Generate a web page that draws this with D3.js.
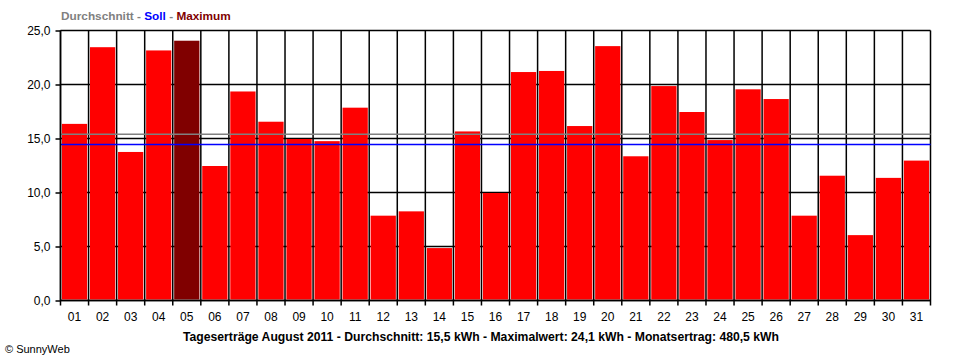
<!DOCTYPE html>
<html><head><meta charset="utf-8">
<script src="https://cdn.jsdelivr.net/npm/d3@7"></script>
<style>body{margin:0;background:#fff}svg{display:block}</style>
</head><body><svg id="c" width="960" height="360"></svg>
<script>
const days = ["01","02","03","04","05","06","07","08","09","10","11","12","13","14","15","16","17","18","19","20","21","22","23","24","25","26","27","28","29","30","31"];
const values = [16.4,23.5,13.8,23.2,24.1,12.5,19.4,16.6,15.0,14.8,17.9,7.9,8.3,4.9,15.7,10.0,21.2,21.3,16.2,23.6,13.4,19.9,17.5,14.9,19.6,18.7,7.9,11.6,6.1,11.4,13.0];
const yTicks = [0,5,10,15,20,25];
const yTickLabels = ["0,0","5,0","10,0","15,0","20,0","25,0"];
const averageLine = 15.4;
const targetLine = 14.45;
const legendParts = [{t:"Durchschnitt",c:"#808080"},{t:" - ",c:"#808080"},{t:"Soll",c:"#0000ff"},{t:" - ",c:"#808080"},{t:"Maximum",c:"#800000"}];
const footer = "Tageserträge August 2011 - Durchschnitt: 15,5 kWh - Maximalwert: 24,1 kWh - Monatsertrag: 480,5 kWh";
const credit = "© SunnyWeb";

const svg = d3.select("#c");
const L=60.5, R=930.5, T=30.5, B=300.5;
const font = "'Liberation Sans', Arial, sans-serif";
const x = d3.scaleBand().domain(days).range([L,R]).paddingInner(0.1).paddingOuter(0.05);
const y = d3.scaleLinear().domain([0,25]).range([B,T]);
const step = x.step(), gap = (step - x.bandwidth())/2;
const maxV = d3.max(values);

// horizontal grid
svg.append("g").selectAll("line").data(yTicks).join("line")
  .attr("x1",L).attr("x2",R).attr("y1",d=>y(d)).attr("y2",d=>y(d))
  .attr("stroke","#000").attr("stroke-width",1.5);
// vertical grid (column boundaries)
const bounds = days.map(d=>x(d)-gap).concat([R]);
svg.append("g").selectAll("line").data(bounds).join("line")
  .attr("x1",d=>d).attr("x2",d=>d).attr("y1",T).attr("y2",B+5)
  .attr("stroke","#000").attr("stroke-width",1.5);
// bars
svg.append("g").selectAll("rect").data(values).join("rect")
  .attr("x",(d,i)=>x(days[i])).attr("width",x.bandwidth())
  .attr("y",d=>y(d)+0.5).attr("height",d=>y(0)-y(d)-1.5)
  .attr("fill",d=>d===maxV?"#800000":"#ff0000");
// average / target lines
svg.append("line").attr("x1",L).attr("x2",R).attr("y1",y(averageLine)).attr("y2",y(averageLine))
  .attr("stroke","#808080").attr("stroke-width",1.5);
svg.append("line").attr("x1",L).attr("x2",R).attr("y1",y(targetLine)).attr("y2",y(targetLine))
  .attr("stroke","#0000ff").attr("stroke-width",1.5);
// axes
svg.append("line").attr("x1",L).attr("x2",R).attr("y1",B).attr("y2",B).attr("stroke","#000").attr("stroke-width",1.5);
svg.append("line").attr("x1",L).attr("x2",L).attr("y1",T).attr("y2",B).attr("stroke","#000").attr("stroke-width",1.5);
const yAxis = d3.axisLeft(y).tickValues(yTicks).tickSize(5).tickFormat((d,i)=>yTickLabels[i]);
const gy = svg.append("g").attr("transform",`translate(${L},0)`).call(yAxis);
gy.select(".domain").remove();
gy.selectAll("line").attr("stroke","#000").attr("stroke-width",1.5);
gy.selectAll("text").attr("font-family",font).attr("font-size",12).attr("fill","#000").attr("x",-10).attr("dy","0.35em");
const xAxis = d3.axisBottom(x).tickSize(0);
const gx = svg.append("g").attr("transform",`translate(0,${B})`).call(xAxis);
gx.select(".domain").remove();
gx.selectAll("text").attr("font-family",font).attr("font-size",12).attr("fill","#000").attr("y",12).attr("dy","0.71em");

// legend
const lg = svg.append("text").attr("x",61).attr("y",20).attr("font-family",font).attr("font-size",11.8).attr("font-weight","bold");
lg.selectAll("tspan").data(legendParts).join("tspan").attr("fill",d=>d.c).text(d=>d.t).attr("xml:space","preserve");
// footer
svg.append("text").attr("x",481).attr("y",341).attr("text-anchor","middle").attr("font-family",font)
  .attr("font-size",12.2).attr("font-weight","bold").attr("fill","#000").text(footer);
svg.append("text").attr("x",5).attr("y",353).attr("font-family",font).attr("font-size",11).attr("fill","#000").text(credit);
</script></body></html>
